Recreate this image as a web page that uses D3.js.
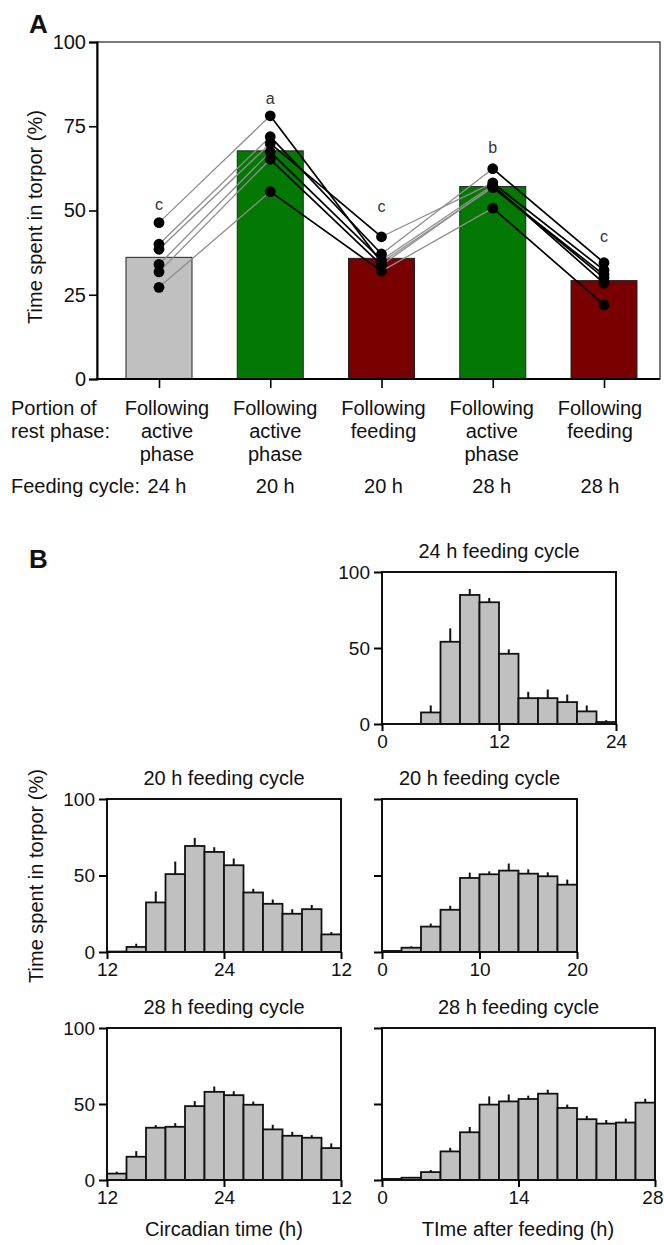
<!DOCTYPE html>
<html>
<head>
<meta charset="utf-8">
<script src="https://cdn.jsdelivr.net/npm/d3@7"></script>
<style>
body { margin: 0; background: #fff; }
text { font-family: "Liberation Sans", Arial, sans-serif; fill: #111; }
</style>
</head>
<body>
<div id="chart"></div>
<script>
// panel A - torpor per portion of rest phase
var categories = ["24active", "20active", "20feeding", "28active", "28feeding"];
var catLabels = [["Following", "active", "phase"], ["Following", "active", "phase"], ["Following", "feeding"], ["Following", "active", "phase"], ["Following", "feeding"]];
var cycleLabels = ["24 h", "20 h", "20 h", "28 h", "28 h"];
var meanTorpor = [36.1, 67.7, 35.8, 57.1, 29.2];
var letters = ["c", "a", "c", "b", "c"];
var letterAt = [51.5, 83, 51, 68.5, 42];
var yTicksA = [0, 25, 50, 75, 100];

// one row per animal, same order as categories
var animals = [
	[46.4, 78.1, 34.6, 56.8, 30.9],
	[40.0, 71.9, 37.1, 62.4, 34.5],
	[38.5, 69.9, 42.2, 58.2, 32.3],
	[34.0, 67.4, 35.3, 57.5, 28.4],
	[31.8, 65.2, 33.8, 57.1, 30.0],
	[27.2, 55.6, 32.0, 50.7, 22.0]
];

// panel B - 2 h bins, mean and error
var h24Mean = [0, 0, 7.6, 54.1, 84.9, 80.1, 46.2, 17.0, 17.0, 14.4, 8.3, 1.3];
var h24Err  = [0, 0, 4.6, 8.8, 3.9, 2.8, 2.9, 4.2, 5.7, 5.0, 3.9, 1.2];
var c20Mean = [0.3, 3.3, 32.4, 50.9, 69.3, 65.4, 56.7, 38.9, 31.5, 25.0, 28.0, 11.5];
var c20Err  = [0, 2.1, 7.2, 8.2, 5.3, 3.1, 4.4, 2.4, 2.8, 3.0, 2.7, 1.5];
var f20Mean = [0.7, 2.8, 16.6, 27.6, 48.4, 50.8, 53.2, 51.2, 49.5, 44.0];
var f20Err  = [0, 0.9, 2.0, 2.6, 3.5, 1.9, 4.6, 2.8, 2.6, 3.3];
var c28Mean = [4.2, 15.3, 34.4, 35.0, 48.6, 58.0, 55.8, 49.5, 33.3, 29.1, 27.8, 21.0];
var c28Err  = [1.3, 3.7, 1.7, 2.4, 3.3, 3.5, 2.6, 2.1, 3.0, 2.6, 1.7, 3.1];
var f28Mean = [0.7, 1.5, 5.2, 18.8, 31.4, 49.6, 51.7, 53.3, 56.8, 47.4, 40.0, 37.1, 37.8, 50.9];
var f28Err  = [0.3, 0.5, 1.4, 2.4, 3.5, 5.4, 4.6, 2.2, 2.6, 2.2, 2.2, 2.4, 2.6, 2.6];
var binHours = 2;

var barFill = ["#c0c0c0", "#037803", "#780000", "#037803", "#780000"];

var svg = d3.select("#chart")
	.append("svg")
	.attr("width", 664)
	.attr("height", 1245);

drawPanelA();
drawPanelB();

function drawPanelA()
{
	var left = 97, right = 660;
	var xScale = d3.scalePoint().domain(categories).range([159, 604]);
	var yScale = d3.scaleLinear().domain([0, 100]).range([379, 42]);
	// the text table under the plot has its own columns
	var labelScale = d3.scalePoint().domain(categories).range([167, 600]);

	svg.append("text").attr("x", 29).attr("y", 33)
		.style("font-size", "26px").style("font-weight", "bold").text("A");

	svg.selectAll("rect.bar")
		.data(meanTorpor)
		.enter()
		.append("rect")
		.attr("class", "bar")
		.attr("x", function(d, i){ return xScale(categories[i]) - 33; })
		.attr("width", 66)
		.attr("y", function(d){ return yScale(d); })
		.attr("height", function(d){ return yScale(0) - yScale(d); })
		.attr("fill", function(d, i){ return barFill[i]; })
		.attr("stroke", "#222")
		.attr("stroke-width", 1);

	// lines between phases, grey into active phase, black out of it
	var segs = [];
	animals.forEach(function(a){
		for(var i = 0; i < a.length - 1; i++)
		{
			segs.push({i: i, a: a[i], b: a[i + 1]});
		}
	});
	segs.sort(function(p, q){ return (p.i % 2) - (q.i % 2); });

	svg.selectAll("line.link")
		.data(segs)
		.enter()
		.append("line")
		.attr("class", "link")
		.attr("x1", function(d){ return xScale(categories[d.i]); })
		.attr("x2", function(d){ return xScale(categories[d.i + 1]); })
		.attr("y1", function(d){ return yScale(d.a); })
		.attr("y2", function(d){ return yScale(d.b); })
		.attr("stroke", function(d){ return d.i % 2 == 0 ? "#8e8e8e" : "#000"; })
		.attr("stroke-width", function(d){ return d.i % 2 == 0 ? 1.3 : 1.7; });

	var pts = [];
	animals.forEach(function(a){
		a.forEach(function(v, i){ pts.push([i, v]); });
	});

	svg.selectAll("circle.pt")
		.data(pts)
		.enter()
		.append("circle")
		.attr("class", "pt")
		.attr("cx", function(d){ return xScale(categories[d[0]]); })
		.attr("cy", function(d){ return yScale(d[1]); })
		.attr("r", 5.4)
		.attr("fill", "#000");

	svg.selectAll("text.letter")
		.data(letters)
		.enter()
		.append("text")
		.attr("class", "letter")
		.attr("x", function(d, i){ return xScale(categories[i]); })
		.attr("y", function(d, i){ return yScale(letterAt[i]) + 5; })
		.attr("text-anchor", "middle")
		.style("font-size", "16px")
		.style("fill", "#333")
		.text(function(d){ return d; });

	// frame
	svg.append("rect")
		.attr("x", left).attr("y", 42)
		.attr("width", right - left).attr("height", 337)
		.attr("fill", "none").attr("stroke", "#222").attr("stroke-width", 1.2);

	var yAxis = d3.axisLeft(yScale).tickValues(yTicksA).tickSize(8).tickPadding(3);
	var gy = svg.append("g")
		.attr("transform", "translate(" + left + ",0)")
		.call(yAxis);
	gy.select(".domain").attr("stroke-width", 2);
	gy.selectAll("line").attr("stroke-width", 1.6);
	gy.selectAll("text").style("font-size", "20px").style("font-family", "'Liberation Sans', Arial, sans-serif").attr("fill", "#111");

	var xAxis = d3.axisBottom(xScale).tickSize(9).tickFormat("");
	var gx = svg.append("g")
		.attr("transform", "translate(0,379)")
		.call(xAxis);
	gx.select(".domain").attr("d", "M" + left + ",0H" + right).attr("stroke-width", 2);
	gx.selectAll("line").attr("stroke-width", 1.6);

	svg.append("text")
		.attr("transform", "translate(42,217) rotate(-90)")
		.attr("text-anchor", "middle")
		.style("font-size", "20px")
		.text("Time spent in torpor (%)");

	svg.append("text").attr("x", 11).attr("y", 415).style("font-size", "20px").text("Portion of");
	svg.append("text").attr("x", 11).attr("y", 438).style("font-size", "20px").text("rest phase:");

	catLabels.forEach(function(lines, i){
		lines.forEach(function(t, j){
			svg.append("text")
				.attr("x", labelScale(categories[i]))
				.attr("y", 415 + j * 23)
				.attr("text-anchor", "middle")
				.style("font-size", "20px")
				.text(t);
		});
	});

	svg.append("text").attr("x", 11).attr("y", 493).style("font-size", "20px")
		.text("Feeding cycle:");
	cycleLabels.forEach(function(t, i){
		svg.append("text")
			.attr("x", labelScale(categories[i]))
			.attr("y", 493)
			.attr("text-anchor", "middle")
			.style("font-size", "20px")
			.text(t);
	});
}

function circFormat(d)
{
	return d > 24 ? d - 24 : d;
}

function drawPanelB()
{
	svg.append("text").attr("x", 29).attr("y", 568)
		.style("font-size", "26px").style("font-weight", "bold").text("B");

	drawHist({mean: h24Mean, err: h24Err, domain: [0, 24], ticks: [0, 12, 24], fmt: d3.format("d"),
		left: 382, right: 616, top: 572, bottom: 724, yLabels: true, title: "24 h feeding cycle"});
	drawHist({mean: c20Mean, err: c20Err, domain: [12, 36], ticks: [12, 24, 36], fmt: circFormat,
		left: 107, right: 341, top: 799, bottom: 952, yLabels: true, title: "20 h feeding cycle"});
	drawHist({mean: f20Mean, err: f20Err, domain: [0, 20], ticks: [0, 10, 20], fmt: d3.format("d"),
		left: 382, right: 577, top: 799, bottom: 952, yLabels: false, title: "20 h feeding cycle"});
	drawHist({mean: c28Mean, err: c28Err, domain: [12, 36], ticks: [12, 24, 36], fmt: circFormat,
		left: 107, right: 341, top: 1028, bottom: 1180, yLabels: true, title: "28 h feeding cycle"});
	drawHist({mean: f28Mean, err: f28Err, domain: [0, 28], ticks: [0, 14, 28], fmt: d3.format("d"),
		left: 382, right: 655, top: 1028, bottom: 1180, yLabels: false, title: "28 h feeding cycle"});

	svg.append("text")
		.attr("transform", "translate(43,876) rotate(-90)")
		.attr("text-anchor", "middle")
		.style("font-size", "20px")
		.text("Time spent in torpor (%)");

	svg.append("text").attr("x", 224).attr("y", 1236).attr("text-anchor", "middle")
		.style("font-size", "20px").text("Circadian time (h)");
	svg.append("text").attr("x", 518).attr("y", 1236).attr("text-anchor", "middle")
		.style("font-size", "20px").text("TIme after feeding (h)");
}

function drawHist(cfg)
{
	var xScale = d3.scaleLinear().domain(cfg.domain).range([cfg.left, cfg.right]);
	var yScale = d3.scaleLinear().domain([0, 100]).range([cfg.bottom, cfg.top]);
	var g = svg.append("g");

	var bins = cfg.mean.map(function(v, i){
		return {x0: cfg.domain[0] + i * binHours, v: v, e: cfg.err[i]};
	});

	g.selectAll("rect")
		.data(bins)
		.enter()
		.append("rect")
		.attr("x", function(d){ return xScale(d.x0); })
		.attr("width", function(d){ return xScale(d.x0 + binHours) - xScale(d.x0); })
		.attr("y", function(d){ return yScale(d.v); })
		.attr("height", function(d){ return yScale(0) - yScale(d.v); })
		.attr("fill", "#c0c0c0")
		.attr("stroke", "#111")
		.attr("stroke-width", 1.8);

	g.selectAll("line.err")
		.data(bins.filter(function(d){ return d.e > 0; }))
		.enter()
		.append("line")
		.attr("class", "err")
		.attr("x1", function(d){ return xScale(d.x0 + binHours / 2); })
		.attr("x2", function(d){ return xScale(d.x0 + binHours / 2); })
		.attr("y1", function(d){ return yScale(d.v); })
		.attr("y2", function(d){ return yScale(d.v + d.e); })
		.attr("stroke", "#111")
		.attr("stroke-width", 2);

	g.append("rect")
		.attr("x", cfg.left).attr("y", cfg.top)
		.attr("width", cfg.right - cfg.left).attr("height", cfg.bottom - cfg.top)
		.attr("fill", "none").attr("stroke", "#111").attr("stroke-width", 2);

	var yAxis = d3.axisLeft(yScale).tickValues([0, 50, 100]).tickSize(8).tickPadding(4)
		.tickFormat(cfg.yLabels ? d3.format("d") : "");
	var gy = g.append("g").attr("transform", "translate(" + cfg.left + ",0)").call(yAxis);
	gy.select(".domain").remove();
	gy.selectAll("line").attr("stroke-width", 2);
	gy.selectAll("text").style("font-size", "19px").style("font-family", "'Liberation Sans', Arial, sans-serif").attr("fill", "#111");

	var xAxis = d3.axisBottom(xScale).tickValues(cfg.ticks).tickSize(7).tickPadding(4).tickFormat(cfg.fmt);
	var gx = g.append("g").attr("transform", "translate(0," + cfg.bottom + ")").call(xAxis);
	gx.select(".domain").remove();
	gx.selectAll("line").attr("stroke-width", 2);
	gx.selectAll("text").style("font-size", "19px").style("font-family", "'Liberation Sans', Arial, sans-serif").attr("fill", "#111");

	// keep a label at the right page edge inside the picture
	gx.selectAll(".tick").each(function(){
		var t = d3.select(this).select("text");
		var b = t.node().getBBox();
		var tx = xScale(d3.select(this).datum());
		var over = tx + b.x + b.width - 663;
		if(over > 0)
		{
			t.attr("x", -over);
		}
	});

	g.append("text")
		.attr("x", (cfg.left + cfg.right) / 2)
		.attr("y", cfg.top - 14)
		.attr("text-anchor", "middle")
		.style("font-size", "20px")
		.text(cfg.title);
}
</script>
</body>
</html>
